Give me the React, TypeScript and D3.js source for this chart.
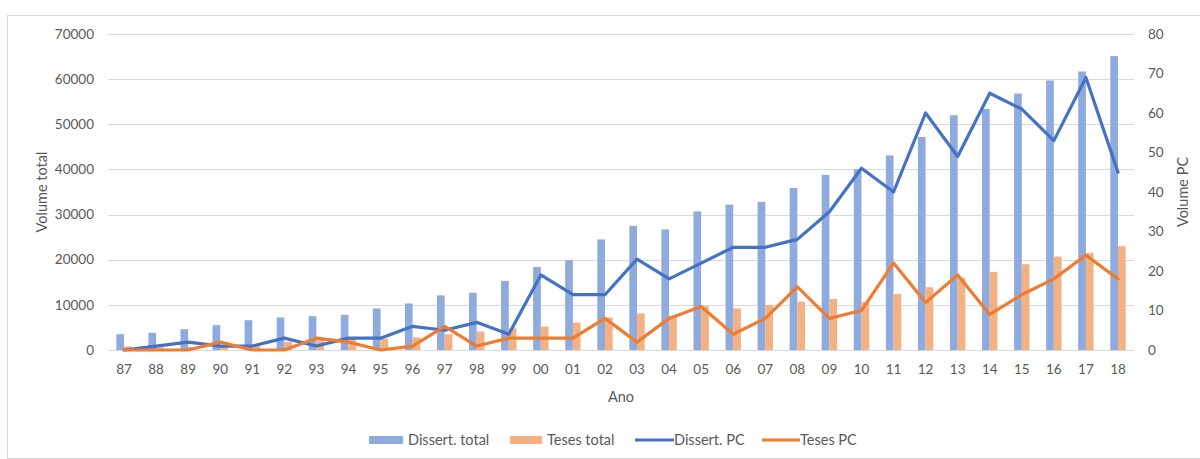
import React from "react";
import * as d3 from "d3";

// Ano (two-digit years)
const years = [
  "87", "88", "89", "90", "91", "92", "93", "94", "95", "96", "97", "98", "99",
  "00", "01", "02", "03", "04", "05", "06", "07", "08", "09", "10", "11", "12",
  "13", "14", "15", "16", "17", "18",
];

// Volume total (left axis)
const dissertTotal = [
  3500, 3800, 4600, 5500, 6600, 7200, 7500, 7800, 9200, 10300, 12100, 12700, 15300,
  18400, 19900, 24500, 27500, 26700, 30700, 32200, 32800, 35900, 38800, 40000, 43100,
  47200, 52000, 53400, 56800, 59700, 61700, 65100,
];
const tesesTotal = [
  800, 600, 700, 1000, 900, 1800, 2200, 2500, 2500, 2800, 3500, 4100, 4800,
  5200, 6100, 7200, 8100, 7500, 9700, 9200, 10000, 10700, 11300, 10600, 12400,
  13900, 16000, 17300, 19000, 20700, 21500, 23000,
];

// Volume PC (right axis)
const dissertPC = [
  0, 1, 2, 1, 1, 3, 1, 3, 3, 6, 5, 7, 4,
  19, 14, 14, 23, 18, 22, 26, 26, 28, 35, 46, 40,
  60, 49, 65, 61, 53, 69, 45,
];
const tesesPC = [
  0, 0, 0, 2, 0, 0, 3, 2, 0, 1, 6, 1, 3,
  3, 3, 8, 2, 8, 11, 4, 8, 16, 8, 10, 22,
  12, 19, 9, 14, 18, 24, 18,
];

const leftTicks = [0, 10000, 20000, 30000, 40000, 50000, 60000, 70000];
const rightTicks = [0, 10, 20, 30, 40, 50, 60, 70, 80];

const W = 1200;
const H = 459;
const plot = { left: 108, right: 1134, top: 34, bottom: 350 };

const FONT = "Lato, 'Open Sans', sans-serif";
const TEXT = "#595959";
const GRID = "#D9D9D9";
const C_DISS_BAR = "#8FAADC";
const C_TES_BAR = "#F4B183";
const C_DISS_LINE = "#4472C4";
const C_TES_LINE = "#ED7D31";

export default function App() {
  const x = d3
    .scaleBand<string>()
    .domain(years)
    .range([plot.left, plot.right])
    .paddingInner(0.52)
    .paddingOuter(0.26);
  const inner = d3
    .scaleBand<string>()
    .domain(["d", "t"])
    .range([0, x.bandwidth()]);
  const yL = d3.scaleLinear().domain([0, 70000]).range([plot.bottom, plot.top]);
  const yR = d3.scaleLinear().domain([0, 80]).range([plot.bottom, plot.top]);
  const cx = (yr: string) => (x(yr) as number) + x.bandwidth() / 2;

  const line = d3
    .line<number>()
    .x((_, i) => cx(years[i]))
    .y((v) => yR(v));

  const legend = [
    { kind: "bar", color: C_DISS_BAR, label: "Dissert. total", sx: 369, tx: 408 },
    { kind: "bar", color: C_TES_BAR, label: "Teses total", sx: 510, tx: 547 },
    { kind: "line", color: C_DISS_LINE, label: "Dissert. PC", sx: 635, tx: 674 },
    { kind: "line", color: C_TES_LINE, label: "Teses PC", sx: 762, tx: 800 },
  ];
  const legendY = 440;

  return (
    <svg
      width={W}
      height={H}
      style={{ position: "absolute", left: 0, top: 0, background: "#fff" }}
      fontFamily={FONT}
    >
      <rect x={7.5} y={15.5} width={1200} height={443} fill="#fff" stroke={GRID} />

      {/* gridlines */}
      {leftTicks.map((t) => (
        <line
          key={t}
          x1={plot.left}
          x2={plot.right}
          y1={Math.round(yL(t)) + 0.5}
          y2={Math.round(yL(t)) + 0.5}
          stroke={GRID}
          strokeWidth={1}
        />
      ))}

      {/* bars */}
      {years.map((yr, i) => (
        <g key={yr}>
          <rect
            x={(x(yr) as number) + (inner("d") as number)}
            y={yL(dissertTotal[i])}
            width={inner.bandwidth()}
            height={yL(0) - yL(dissertTotal[i])}
            fill={C_DISS_BAR}
          />
          <rect
            x={(x(yr) as number) + (inner("t") as number)}
            y={yL(tesesTotal[i])}
            width={inner.bandwidth()}
            height={yL(0) - yL(tesesTotal[i])}
            fill={C_TES_BAR}
          />
        </g>
      ))}

      {/* lines */}
      <path
        d={line(dissertPC) ?? ""}
        fill="none"
        stroke={C_DISS_LINE}
        strokeWidth={3.2}
        strokeLinejoin="round"
        strokeLinecap="round"
      />
      <path
        d={line(tesesPC) ?? ""}
        fill="none"
        stroke={C_TES_LINE}
        strokeWidth={3.2}
        strokeLinejoin="round"
        strokeLinecap="round"
      />

      {/* left axis labels */}
      {leftTicks.map((t) => (
        <text
          key={t}
          x={94}
          y={yL(t)}
          dy="0.35em"
          textAnchor="end"
          fontSize={13.5}
          fill={TEXT}
        >
          {t}
        </text>
      ))}

      {/* right axis labels */}
      {rightTicks.map((t) => (
        <text
          key={t}
          x={1148}
          y={yR(t)}
          dy="0.35em"
          textAnchor="start"
          fontSize={13.5}
          fill={TEXT}
        >
          {t}
        </text>
      ))}

      {/* category labels */}
      {years.map((yr) => (
        <text
          key={yr}
          x={cx(yr)}
          y={369}
          dy="0.35em"
          textAnchor="middle"
          fontSize={13.5}
          fill={TEXT}
        >
          {yr}
        </text>
      ))}

      {/* axis titles */}
      <text
        transform={`translate(42,${(plot.top + plot.bottom) / 2}) rotate(-90)`}
        textAnchor="middle"
        dy="0.35em"
        fontSize={14.5}
        fill={TEXT}
      >
        Volume total
      </text>
      <text
        transform={`translate(1183,${(plot.top + plot.bottom) / 2}) rotate(-90)`}
        textAnchor="middle"
        dy="0.35em"
        fontSize={14.5}
        fill={TEXT}
      >
        Volume PC
      </text>
      <text
        x={(plot.left + plot.right) / 2}
        y={397}
        dy="0.35em"
        textAnchor="middle"
        fontSize={14.5}
        fill={TEXT}
      >
        Ano
      </text>

      {/* legend */}
      {legend.map((d) => (
        <g key={d.label}>
          {d.kind === "bar" ? (
            <rect x={d.sx} y={legendY - 4} width={d.tx - d.sx - 5} height={8} fill={d.color} />
          ) : (
            <line
              x1={d.sx}
              x2={d.tx}
              y1={legendY}
              y2={legendY}
              stroke={d.color}
              strokeWidth={3}
            />
          )}
          <text x={d.tx} y={legendY} dy="0.35em" fontSize={14.5} fill={TEXT}>
            {d.label}
          </text>
        </g>
      ))}
    </svg>
  );
}
